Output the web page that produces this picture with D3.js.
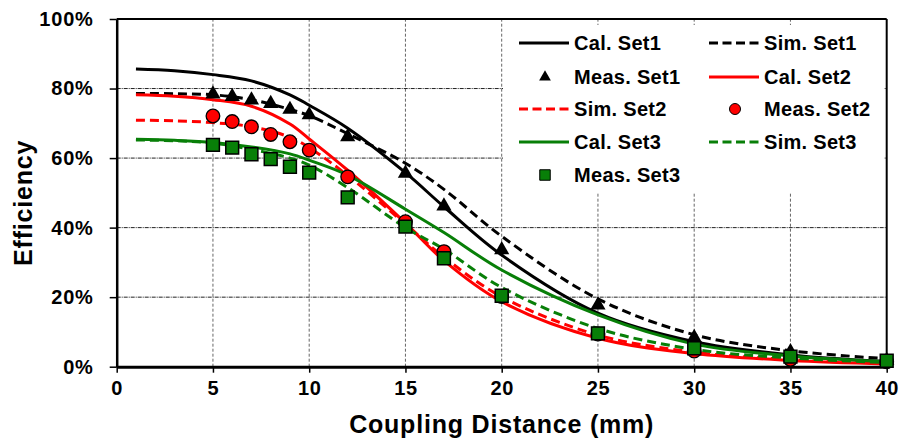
<!DOCTYPE html>
<html>
<head>
<meta charset="utf-8">
<script src="https://cdn.jsdelivr.net/npm/d3@7"></script>
<style>
  body { margin: 0; background: #fff; }
  svg { display: block; font-family: "Liberation Sans", Arial, sans-serif; font-weight: bold; }
</style>
</head>
<body>
<svg width="903" height="443"></svg>
<script>
// Curve x values (mm) and efficiency (%)
const distCurve = [1, 3, 5, 7, 9, 10, 12, 15, 17, 20, 25, 30, 35, 40];
const calSet1 = [85.6, 85.1, 84.0, 82.2, 78.2, 75.2, 68.6, 55.8, 46.0, 32.1, 15.4, 7.2, 3.4, 1.5];
const simSet1 = [78.6, 78.5, 78.2, 76.8, 74.0, 72.2, 67.0, 58.5, 51.0, 37.5, 19.5, 9.2, 4.6, 2.3];
const calSet2 = [78.2, 77.8, 76.8, 74.9, 69.8, 65.5, 56.5, 41.3, 30.5, 18.7, 8.2, 3.8, 1.8, 0.8];
const simSet2 = [70.9, 70.7, 70.2, 69.0, 66.0, 63.0, 55.0, 41.0, 31.5, 20.1, 9.1, 4.2, 2.0, 1.0];
const calSet3 = [65.4, 65.1, 64.5, 63.2, 61.2, 59.4, 55.1, 45.3, 38.6, 27.8, 14.9, 6.5, 3.1, 1.5];
const simSet3 = [65.2, 65.0, 64.3, 62.5, 60.0, 58.0, 51.5, 40.0, 33.8, 22.8, 11.0, 5.0, 2.5, 1.2];

// Measured points
const distMeas = [5, 6, 7, 8, 9, 10, 12, 15, 17, 20, 25, 30, 35, 40];
const measSet1 = [78.4, 77.7, 76.7, 75.7, 74.0, 72.4, 66.1, 55.6, 46.2, 33.6, 17.7, 8.4, 4.3, 1.8];
const measSet2 = [72.1, 70.5, 69.0, 66.8, 64.7, 62.3, 54.6, 41.7, 33.1, 20.2, 9.4, 4.5, 2.1, 1.4];
const measSet3 = [63.8, 63.0, 61.1, 59.7, 57.5, 55.8, 48.7, 40.3, 31.2, 20.4, 9.6, 5.3, 2.9, 1.7];

const xTicks = [0, 5, 10, 15, 20, 25, 30, 35, 40];
const yTicks = [0, 20, 40, 60, 80, 100];
const legendNames = ["Cal. Set1", "Sim. Set1", "Meas. Set1", "Cal. Set2", "Sim. Set2",
                     "Meas. Set2", "Cal. Set3", "Sim. Set3", "Meas. Set3"];

const green = "#087f08";
const red = "#ff0000";

const svg = d3.select("svg");
const margin = { left: 116.7, right: 16.3, top: 19, bottom: 76.3 };
const W = 903, H = 443;

const x = d3.scaleLinear().domain([0, 40]).range([margin.left, W - margin.right]);
const y = d3.scaleLinear().domain([0, 100]).range([H - margin.bottom, margin.top]);

// gridlines
svg.append("g").selectAll("line")
    .data(xTicks.filter(d => d > 0 && d < 40))
    .join("line")
    .attr("x1", d => x(d)).attr("x2", d => x(d))
    .attr("y1", y(0)).attr("y2", y(100))
    .attr("stroke", "#666").attr("stroke-width", 1)
    .attr("stroke-dasharray", "3,2");
svg.append("g").selectAll("line")
    .data(yTicks.filter(d => d > 0 && d < 100))
    .join("line")
    .attr("x1", x(0)).attr("x2", x(40))
    .attr("y1", d => y(d)).attr("y2", d => y(d))
    .attr("stroke", "#222").attr("stroke-width", 1)
    .attr("stroke-dasharray", "4,1,1,1");

// legend background hides the grid
svg.append("rect")
    .attr("x", 503).attr("y", 25).attr("width", 381).attr("height", 167)
    .attr("fill", "#fff");

// frame
svg.append("line").attr("x1", x(0)).attr("x2", x(40)).attr("y1", y(100)).attr("y2", y(100))
    .attr("stroke", "#000").attr("stroke-width", 2);
svg.append("line").attr("x1", x(40)).attr("x2", x(40)).attr("y1", y(0)).attr("y2", y(100))
    .attr("stroke", "#000").attr("stroke-width", 2);

// axes
const xAxis = d3.axisBottom(x).tickValues(xTicks).tickSize(6).tickPadding(8).tickSizeOuter(0);
const yAxis = d3.axisLeft(y).tickValues(yTicks).tickSize(7).tickPadding(16).tickSizeOuter(0)
    .tickFormat(d => d + "%");

const gx = svg.append("g").attr("transform", `translate(0,${y(0)})`).call(xAxis);
gx.select(".domain").attr("stroke-width", 3);
gx.selectAll(".tick line").attr("stroke-width", 1.5);
gx.selectAll("text").attr("font-size", 20).attr("font-weight", "bold").attr("fill", "#000")
    .attr("font-family", "Liberation Sans, Arial, sans-serif").attr("letter-spacing", 0.6);

const gy = svg.append("g").attr("transform", `translate(${x(0)},0)`).call(yAxis);
gy.select(".domain").attr("stroke-width", 2.5);
gy.selectAll(".tick line").attr("stroke-width", 1.5);
gy.selectAll("text").attr("font-size", 20).attr("font-weight", "bold").attr("fill", "#000")
    .attr("font-family", "Liberation Sans, Arial, sans-serif").attr("letter-spacing", 0.8);

// axis titles
svg.append("text")
    .attr("x", (x(0) + x(40)) / 2).attr("y", 433)
    .attr("text-anchor", "middle").attr("font-size", 25).attr("letter-spacing", 0.8)
    .text("Coupling Distance (mm)");
svg.append("text")
    .attr("transform", `translate(32,${(y(0) + y(100)) / 2 + 10}) rotate(-90)`)
    .attr("text-anchor", "middle").attr("font-size", 25).attr("letter-spacing", 0.8)
    .text("Efficiency");

// curves
const line = d3.line()
    .x(d => x(d[0]))
    .y(d => y(d[1]))
    .curve(d3.curveCatmullRom.alpha(0.5));

const curves = [
    { vals: calSet1, color: "#000", dash: null },
    { vals: simSet1, color: "#000", dash: "9,5" },
    { vals: calSet2, color: red, dash: null },
    { vals: simSet2, color: red, dash: "9,5" },
    { vals: calSet3, color: green, dash: null },
    { vals: simSet3, color: green, dash: "9,5" }
];

svg.append("g").selectAll("path")
    .data(curves)
    .join("path")
    .attr("d", c => line(distCurve.map((d, i) => [d, c.vals[i]])))
    .attr("fill", "none")
    .attr("stroke", c => c.color)
    .attr("stroke-width", 3)
    .attr("stroke-dasharray", c => c.dash);

// markers
const triPath = d3.symbol().type(d3.symbolTriangle).size(100);
const sqPath = d3.symbol().type(d3.symbolSquare).size(165);

svg.append("g").selectAll("path")
    .data(distMeas.map((d, i) => [d, measSet1[i]]))
    .join("path")
    .attr("transform", d => `translate(${x(d[0])},${y(d[1])})`)
    .attr("d", triPath)
    .attr("fill", "#000");

svg.append("g").selectAll("circle")
    .data(distMeas.map((d, i) => [d, measSet2[i]]))
    .join("circle")
    .attr("cx", d => x(d[0])).attr("cy", d => y(d[1]))
    .attr("r", 6.8)
    .attr("fill", red).attr("stroke", "#000").attr("stroke-width", 1.3);

svg.append("g").selectAll("path")
    .data(distMeas.map((d, i) => [d, measSet3[i]]))
    .join("path")
    .attr("transform", d => `translate(${x(d[0])},${y(d[1])})`)
    .attr("d", sqPath)
    .attr("fill", green).attr("stroke", "#000").attr("stroke-width", 1.5);

// legend
const legendKinds = [
    { type: "line", color: "#000" }, { type: "dash", color: "#000" },
    { type: "tri", color: "#000" }, { type: "line", color: red },
    { type: "dash", color: red }, { type: "circle", color: red },
    { type: "line", color: green }, { type: "dash", color: green },
    { type: "square", color: green }
];
const rowY = [43, 77, 109, 142, 175];
const colX = [519, 709];

const lg = svg.append("g").selectAll("g")
    .data(legendNames)
    .join("g")
    .attr("transform", (d, i) => `translate(${colX[i % 2]},${rowY[Math.floor(i / 2)]})`);

lg.each(function(name, i) {
    const g = d3.select(this);
    const k = legendKinds[i];
    if (k.type === "line" || k.type === "dash") {
        g.append("line").attr("x1", 0).attr("x2", 50).attr("y1", 0).attr("y2", 0)
            .attr("stroke", k.color).attr("stroke-width", 3)
            .attr("stroke-dasharray", k.type === "dash" ? "9,4.5" : null);
    } else if (k.type === "tri") {
        g.append("path").attr("transform", "translate(26,0)")
            .attr("d", d3.symbol().type(d3.symbolTriangle).size(60)).attr("fill", k.color);
    } else if (k.type === "circle") {
        g.append("circle").attr("cx", 26).attr("cy", 0).attr("r", 5.5)
            .attr("fill", k.color).attr("stroke", "#000").attr("stroke-width", 1);
    } else {
        g.append("path").attr("transform", "translate(26,0)")
            .attr("d", d3.symbol().type(d3.symbolSquare).size(110))
            .attr("fill", k.color).attr("stroke", "#000").attr("stroke-width", 1);
    }
    g.append("text").attr("x", 55).attr("y", 0).attr("dy", "0.36em")
        .attr("font-size", 20).attr("letter-spacing", 0.3).text(name);
});
</script>
</body>
</html>
